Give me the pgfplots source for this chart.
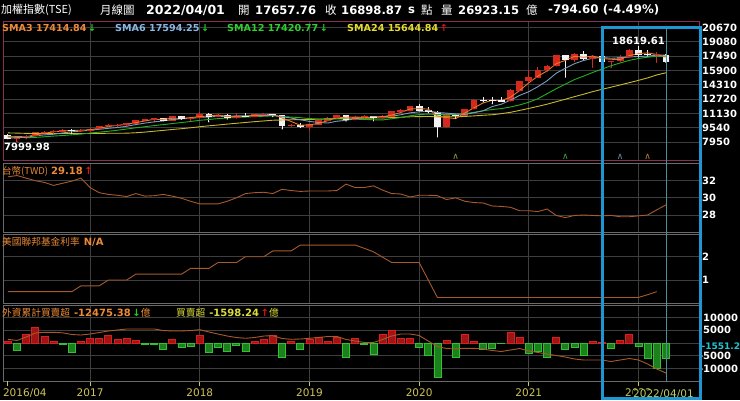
\documentclass[border=0pt]{standalone}
\usepackage{pgfplots}
\pgfplotsset{compat=1.18}
\usepackage{pgfplotstable}
\usepackage{fontspec}
\setmainfont{DejaVu Sans}
\newfontfamily\cjk{Noto Sans CJK TC}
\definecolor{gridc}{HTML}{3E3E3E}
\definecolor{mar}{HTML}{8A2E55}
\definecolor{bord}{HTML}{6A6A6A}
\definecolor{ora}{HTML}{EC8A36}
\definecolor{sma3}{HTML}{E8782A}
\definecolor{sma6}{HTML}{7A9CC0}
\definecolor{sma12}{HTML}{22B022}
\definecolor{sma24}{HTML}{C8B828}
\definecolor{txt6}{HTML}{86B8E6}
\definecolor{txt12}{HTML}{2ED02E}
\definecolor{txt24}{HTML}{E6DC2A}
\definecolor{upred}{HTML}{D42A1E}
\definecolor{dnwht}{HTML}{F2F2F2}
\definecolor{brn}{HTML}{A85A2C}
\definecolor{barred}{HTML}{A01414}
\definecolor{barredl}{HTML}{D82020}
\definecolor{bargrn}{HTML}{1C801C}
\definecolor{bargrnl}{HTML}{34C034}
\definecolor{olv}{HTML}{CCC45A}
\definecolor{olv2}{HTML}{BCCC62}
\definecolor{boxblue}{HTML}{1E96D2}
\definecolor{curs}{HTML}{4A9098}
\definecolor{cyanl}{HTML}{22C4D4}
\definecolor{arrg}{HTML}{22CC22}
\definecolor{arrr}{HTML}{E01010}
\definecolor{yel}{HTML}{DCDC3A}
\definecolor{sigA}{HTML}{8A9A30}
\definecolor{sigB}{HTML}{3AA03A}
\definecolor{sigC}{HTML}{6A8AAA}
\definecolor{sigD}{HTML}{C07830}

\pgfplotsset{
  panel/.style={
    scale only axis, width=697pt, anchor=north west,
    xmin=-0.53, xmax=75.73,
    axis background/.style={fill=black},
    xtick={9,21,33,45,57,69}, xticklabels={},
    xmajorgrids, ymajorgrids,
    major grid style={draw=gridc, line width=0.8pt},
    tick style={draw=none},
    scaled y ticks=false,
    yticklabel pos=right,
    yticklabel style={text=white, font=\bfseries\fontsize{10}{12}\selectfont, inner sep=0pt, anchor=west, xshift=2pt},
  },
  sig/.style={only marks, mark=text, text mark={∧}, text mark as node=true,
    text mark style={font=\fontsize{9}{9}\selectfont, text=#1, inner sep=0pt}},
}

% rising months (red candles): x open high low close
\pgfplotstableread{
x O H L C
1 8377 8600 7999.98 8535
2 8535 8720 8300 8667
3 8667 9030 8640 9007
4 9007 9140 8970 9068
5 9068 9260 8950 9166
6 9166 9400 9140 9290
8 9240 9400 9100 9253
9 9253 9470 9160 9448
10 9448 9770 9430 9750
11 9750 9970 9700 9812
12 9812 9900 9650 9872
13 9872 10100 9800 10041
14 10041 10400 10000 10395
15 10395 10530 10300 10427
16 10427 10640 10150 10586
18 10384 10800 10370 10794
20 10560 10700 10300 10643
21 10643 11270 10600 11104
23 10815 11080 10800 10919
25 10658 11170 10600 10875
27 10837 11100 10800 11057
28 11057 11120 10800 11064
31 9802 10000 9700 9888
33 9727 9950 9320 9932
34 9932 10400 9900 10389
35 10389 10700 10300 10641
36 10641 11000 10600 10967
38 10498 10800 10400 10731
39 10731 11000 10700 10824
41 10618 10950 10600 10830
42 10830 11400 10800 11358
43 11358 11600 11300 11490
44 11490 12000 11400 11997
48 9708 11000 9600 10993
50 10943 11650 10900 11621
51 11621 12700 11600 12665
55 12546 13800 12500 13723
56 13723 14750 13700 14733
57 14733 16000 14700 15138
58 15138 16300 15100 15953
59 15953 16500 15800 16431
60 16431 17600 16400 17567
62 17068 17800 16900 17755
64 17247 17600 16250 17490
66 16935 17000 16200 16987
67 16987 17600 16900 17428
68 17428 18250 17400 18219
71 17652 17900 16800 17693
}\upc

% falling months (white candles): x open high low close
\pgfplotstableread{
x O H L C
0 8744 8800 8300 8377
7 9290 9360 8870 9240
17 10586 10640 10300 10384
19 10794 10870 10470 10560
22 11104 11150 10190 10815
24 10919 11050 10500 10658
26 10875 11140 10800 10837
29 11064 11090 10760 10998
30 10998 11000 9400 9802
32 9888 10060 9550 9727
37 10967 11000 10280 10498
40 10824 10850 10300 10618
45 11997 12200 11400 11495
46 11495 11800 11200 11292
47 11292 11400 8523 9708
49 10993 11100 10600 10943
52 12665 12900 12400 12592
53 12592 13000 12200 12516
54 12560 12950 12500 12546
61 17567 17600 15159 17068
63 17755 18034 17100 17247
65 17490 17600 16700 16935
69 18219 18619.61 17400 17674
70 17674 18200 17500 17652
72 17657.76 17700 16800 16898.87
}\dnc

\pgfplotstableread{
x s3 s6 s12 s24 twd fed fb cum
0 8510 8390 8580 8960 32.45 0.5 650 1445
1 8550 8430 8480 8940 32.6 0.5 -2870 977
2 8530 8480 8430 8910 32.3 0.5 3250 2340
3 8740 8630 8460 8890 32.0 0.5 6250 3900
4 8920 8740 8530 8880 31.8 0.5 2600 4180
5 9080 8810 8610 8890 31.45 0.5 500 4180
6 9180 8960 8670 8900 31.7 0.5 -400 3980
7 9230 9080 8750 8900 31.95 0.5 -3650 3320
8 9260 9170 8830 8900 32.3 0.75 500 3125
9 9310 9250 8940 8900 31.2 0.75 1950 3515
10 9480 9360 9050 8910 30.6 0.75 1950 4100
11 9670 9470 9140 8920 30.4 1.0 2870 4690
12 9810 9560 9260 8920 30.3 1.0 1300 5080
13 9910 9700 9390 8930 30.15 1.0 1950 5470
14 10100 9890 9530 8980 30.5 1.25 900 5470
15 10290 10050 9650 9050 30.2 1.25 -400 5470
16 10470 10190 9770 9150 30.25 1.25 -400 5470
17 10470 10290 9880 9240 30.4 1.25 -2350 4880
18 10590 10440 10000 9340 30.2 1.25 1560 4690
19 10580 10530 10110 9430 29.95 1.25 -1700 4690
20 10660 10570 10230 9530 29.6 1.5 -1300 4880
21 10770 10680 10360 9650 29.3 1.5 2870 5200
22 10850 10720 10450 9750 29.3 1.5 -3650 4300
23 10950 10810 10550 9840 29.3 1.75 -1700 3515
24 10800 10780 10610 9940 29.6 1.75 -3250 2730
25 10820 10840 10680 10030 30.0 1.75 -1050 2150
26 10790 10870 10720 10120 30.5 2.0 -3250 1840
27 10930 10860 10770 10210 30.6 2.0 650 2150
28 10990 10900 10810 10290 30.65 2.0 1300 2730
29 11040 10920 10860 10370 30.5 2.25 3000 2850
30 10620 10770 10780 10390 31.0 2.25 -5470 1760
31 10230 10610 10720 10420 30.85 2.25 500 1445
32 9810 10420 10650 10440 30.75 2.5 -2600 1560
33 9850 10240 10550 10460 30.8 2.5 1560 1840
34 10020 10120 10510 10480 30.8 2.5 2350 2150
35 10320 10060 10490 10520 30.8 2.5 500 2540
36 10670 10260 10520 10560 30.85 2.5 2350 2540
37 10700 10360 10480 10580 31.6 2.5 -5470 1370
38 10730 10530 10480 10600 31.2 2.5 1950 780
39 10680 10680 10460 10610 31.2 2.36 -500 200
40 10720 10710 10420 10610 31.4 2.21 -4560 200
41 10760 10750 10400 10630 30.9 1.98 3500 1370
42 10940 10810 10530 10660 30.5 1.75 4820 2730
43 11230 10980 10670 10700 30.45 1.75 1950 3515
44 11620 11190 10860 10750 30.1 1.75 1950 3515
45 11660 11300 10990 10770 30.3 1.75 -1700 2930
46 11600 11410 11060 10790 30.3 1.0 -4950 780
47 10830 11230 10990 10740 30.25 0.25 -13400 -1370
48 10660 11160 10990 10750 29.8 0.25 900 -2150
49 10550 11070 11020 10750 30.0 0.25 -5600 -2340
50 11180 11010 11100 10790 29.6 0.25 3250 -2070
51 11740 11200 11250 10850 29.45 0.25 500 -2070
52 12290 11420 11420 10920 29.4 0.25 -2350 -2340
53 12590 11890 11560 10980 29.05 0.25 -1950 -2930
54 12550 12150 11660 11100 29.0 0.25 -300 -3320
55 12930 12610 11840 11250 28.9 0.25 4300 -2730
56 13670 13130 12070 11460 28.5 0.25 2200 -2150
57 14530 13540 12370 11680 28.5 0.25 -3900 -3125
58 15270 14100 12760 11910 28.4 0.25 -3250 -3710
59 15840 14750 13320 12150 28.7 0.25 -5600 -4300
60 16650 15590 13870 12430 27.95 0.25 2200 -4880
61 17020 16150 14380 12700 27.7 0.25 -2350 -5470
62 17470 16650 14890 12990 27.95 0.25 -1700 -6250
63 17360 17010 15270 13260 28.0 0.25 -4800 -6640
64 17500 17260 15680 13550 27.95 0.25 500 -6640
65 17230 17350 16050 13800 27.9 0.25 300 -6640
66 17140 17250 16420 14040 27.95 0.25 -1950 -7230
67 17120 17310 16730 14290 27.8 0.25 900 -6640
68 17550 17390 17020 14540 27.8 0.25 3500 -6050
69 17770 17460 17230 14800 27.9 0.25 -1300 -6640
70 17850 17480 17370 15070 28.0 0.37 -5860 -8200
71 17670 17610 17480 15400 28.6 0.5 -9770 -10160
72 17410 17590 17420 15640 29.18 nan -5860 -11720
}\data

\begin{document}
\begin{tikzpicture}
\useasboundingbox (0pt,0pt) rectangle (740pt,-400pt);
\fill[black] (0pt,0pt) rectangle (740pt,-400pt);

% ---------------- Panel 1: price ----------------
\begin{axis}[panel, at={(3pt,-21pt)}, height=139pt,
  ymin=5950, ymax=21392,
  ytick={7950,9540,11130,12720,14310,15900,17490,19080,20670},
  yticklabels={7950,9540,11130,12720,14310,15900,17490,19080,20670},
  axis line style={draw=mar, line width=1pt}]
% wicks
\addplot[only marks, mark=*, mark size=0.3pt, mark options={draw=upred, fill=upred},
  error bars/.cd, y dir=plus, y explicit, error mark=none,
  error bar style={line width=1pt, draw=upred}]
  table[x=x, y=L, y error plus expr=\thisrow{H}-\thisrow{L}] {\upc};
\addplot[only marks, mark=*, mark size=0.3pt, mark options={draw=dnwht, fill=dnwht},
  error bars/.cd, y dir=plus, y explicit, error mark=none,
  error bar style={line width=1pt, draw=dnwht}]
  table[x=x, y=L, y error plus expr=\thisrow{H}-\thisrow{L}] {\dnc};
% bodies
\addplot[only marks, mark=-, mark size=3.4pt,
  mark options={draw=upred, line width=1pt},
  error bars/.cd, y dir=plus, y explicit, error mark=none,
  error bar style={line width=6.8pt, draw=upred}]
  table[x=x, y=O, y error plus expr=\thisrow{C}-\thisrow{O}] {\upc};
\addplot[only marks, mark=-, mark size=3.4pt,
  mark options={draw=dnwht, line width=1pt},
  error bars/.cd, y dir=plus, y explicit, error mark=none,
  error bar style={line width=6.8pt, draw=dnwht}]
  table[x=x, y=C, y error plus expr=\thisrow{O}-\thisrow{C}] {\dnc};
% moving averages
\addplot[sma24, line width=0.9pt, no marks] table[x=x, y=s24] {\data};
\addplot[sma12, line width=0.9pt, no marks] table[x=x, y=s12] {\data};
\addplot[sma6, line width=0.9pt, no marks] table[x=x, y=s6] {\data};
\addplot[sma3, line width=0.9pt, no marks] table[x=x, y=s3] {\data};
% signals
\addplot[sig=sigA] coordinates {(49,6300)};
\addplot[sig=sigB] coordinates {(61,6300)};
\addplot[sig=sigC] coordinates {(67,6300)};
\addplot[sig=sigD] coordinates {(70,6300)};
\node[anchor=south, text=white, font=\bfseries\fontsize{10}{12}\selectfont, inner sep=1pt] at (axis cs:69,18619.61) {18619.61};
\node[anchor=north west, text=white, font=\bfseries\fontsize{10}{12}\selectfont, inner sep=1pt] at (axis cs:-0.53,7999.98) {7999.98};
\end{axis}

% ---------------- Panel 2: TWD ----------------
\begin{axis}[panel, at={(3pt,-163pt)}, height=69pt,
  ymin=26.02, ymax=34.06, ytick={28,30,32}, yticklabels={28,30,32},
  axis line style={draw=bord, line width=0.8pt}]
\addplot[brn, line width=0.9pt, no marks] table[x=x, y=twd] {\data};
\end{axis}

% ---------------- Panel 3: Fed funds rate ----------------
\begin{axis}[panel, at={(3pt,-234pt)}, height=69pt,
  ymin=0.013, ymax=2.974, ytick={1,2}, yticklabels={1,2},
  axis line style={draw=bord, line width=0.8pt}]
\addplot[brn, line width=0.9pt, no marks] table[x=x, y=fed] {\data};
\end{axis}

% ---------------- Panel 4: foreign investors ----------------
\begin{axis}[panel, at={(3pt,-305pt)}, height=76pt,
  ymin=-14843, ymax=14843,
  ytick={-10000,-5000,0,5000,10000},
  yticklabels={\llap{-}10000,\llap{-}5000,{},5000,10000},
  yticklabel style={xshift=-4pt},
  axis line style={draw=bord, line width=0.8pt},
  xticklabels={2017,2018,2019,2020,2021,2022},
  xtick style={draw=olv, line width=0.8pt}, tick align=outside, major tick length=5pt, xtick pos=bottom,
  xticklabel style={text=olv, font=\fontsize{10.5}{12}\selectfont, inner sep=0pt, yshift=-3pt},
  extra x ticks={0}, extra x tick labels={2016/04},
  extra x tick style={grid=none, xticklabel style={anchor=north west, xshift=-5pt}}]
\addplot[ybar, bar width=7pt, bar shift=0pt, fill=barred, draw=barredl, line width=0.8pt,
  restrict y to domain=0.001:20000] table[x=x, y=fb] {\data};
\addplot[ybar, bar width=7pt, bar shift=0pt, fill=bargrn, draw=bargrnl, line width=0.8pt,
  restrict y to domain=-20000:-0.001] table[x=x, y=fb] {\data};
\addplot[brn, line width=0.9pt, no marks] table[x=x, y=cum] {\data};
\end{axis}

% ---------------- overlays ----------------
\draw[curs, line width=0.8pt] (666pt,-27pt) -- (666pt,-381pt);
\node[anchor=west, fill=black, inner sep=0.5pt, text=olv2, font=\fontsize{10.5}{12}\selectfont] at (632.5pt,-394.5pt) {2022/04/01};
\node[anchor=west, fill=black, inner sep=0.5pt, text=cyanl, font=\bfseries\fontsize{9}{11}\selectfont] at (701pt,-346pt) {-1551.2};
\draw[boxblue, line width=3pt] (602pt,-27pt) rectangle (700pt,-398pt);

% title row
\begin{scope}[every node/.style={anchor=west, inner sep=0pt, text=white}]
\node[font=\cjk\fontsize{11}{13}\selectfont] at (1pt,-10pt) {加權指數(TSE)};
\node[font=\cjk\fontsize{11.5}{13}\selectfont] at (100pt,-10pt) {月線圖};
\node[font=\bfseries\fontsize{12.5}{14}\selectfont] at (146pt,-10pt) {2022/04/01};
\node[font=\cjk\fontsize{11.5}{13}\selectfont] at (238pt,-10pt) {開};
\node[font=\bfseries\fontsize{11.6}{14}\selectfont] at (255pt,-10pt) {17657.76};
\node[font=\cjk\fontsize{11.5}{13}\selectfont] at (325pt,-10pt) {收};
\node[font=\bfseries\fontsize{11.6}{14}\selectfont] at (341pt,-10pt) {16898.87};
\node[font=\bfseries\fontsize{11.6}{14}\selectfont] at (408pt,-10pt) {s};
\node[font=\cjk\fontsize{11.5}{13}\selectfont] at (421pt,-10pt) {點};
\node[font=\cjk\fontsize{11.5}{13}\selectfont] at (441pt,-10pt) {量};
\node[font=\bfseries\fontsize{11.6}{14}\selectfont] at (458pt,-10pt) {26923.15};
\node[font=\cjk\fontsize{11.5}{13}\selectfont] at (526pt,-10pt) {億};
\node[font=\bfseries\fontsize{11.8}{14}\selectfont] at (548pt,-10pt) {-794.60 (-4.49\%)};
% SMA legend
\node[font=\bfseries\fontsize{9.6}{11}\selectfont] at (2pt,-28pt) {\textcolor{ora}{SMA3 17414.84}\,\textcolor{arrg}{↓}};
\node[font=\bfseries\fontsize{9.6}{11}\selectfont] at (115pt,-28pt) {\textcolor{txt6}{SMA6 17594.25}\,\textcolor{arrg}{↓}};
\node[font=\bfseries\fontsize{9.6}{11}\selectfont] at (227pt,-28pt) {\textcolor{txt12}{SMA12 17420.77}\,\textcolor{arrg}{↓}};
\node[font=\bfseries\fontsize{9.6}{11}\selectfont] at (347pt,-28pt) {\textcolor{txt24}{SMA24 15644.84}\,\textcolor{arrr}{↑}};
% panel headers
\node at (2pt,-171pt) {\textcolor{ora}{\cjk\fontsize{9.5}{11}\selectfont 台幣(TWD)}\hspace{3pt}\textcolor{ora}{\bfseries\fontsize{10}{12}\selectfont 29.18}\,\textcolor{arrr}{\bfseries\fontsize{10}{12}\selectfont ↑}};
\node at (2pt,-242pt) {\textcolor{ora}{\cjk\fontsize{9.7}{11}\selectfont 美國聯邦基金利率}\hspace{4pt}\textcolor{ora}{\bfseries\fontsize{10}{12}\selectfont N/A}};
\node at (2pt,-312.5pt) {\textcolor{ora}{\cjk\fontsize{9.7}{11}\selectfont 外資累計買賣超}\hspace{4pt}\textcolor{ora}{\bfseries\fontsize{10}{12}\selectfont -12475.38}\,\textcolor{arrg}{\bfseries\fontsize{10}{12}\selectfont ↓}\textcolor{ora}{\cjk\fontsize{9.7}{11}\selectfont 億}};
\node at (176pt,-312.5pt) {\textcolor{yel}{\cjk\fontsize{9.7}{11}\selectfont 買賣超}\hspace{4pt}\textcolor{yel}{\bfseries\fontsize{10}{12}\selectfont -1598.24}\,\textcolor{arrr}{\bfseries\fontsize{10}{12}\selectfont ↑}\textcolor{yel}{\cjk\fontsize{9.7}{11}\selectfont 億}};
\end{scope}
\end{tikzpicture}
\end{document}
